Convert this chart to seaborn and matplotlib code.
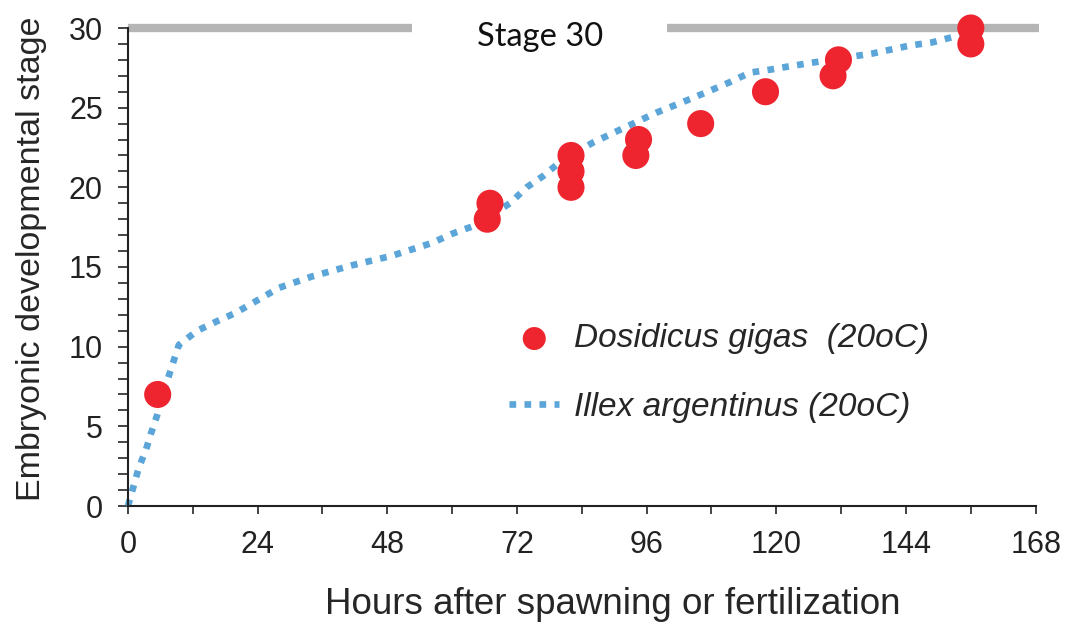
import matplotlib
matplotlib.use('Agg')
import matplotlib.pyplot as plt
from matplotlib.ticker import MultipleLocator
import seaborn as sns

# Dosidicus gigas observations (hours, stage)
dosidicus_hours = [5.5, 66.5, 67, 82, 82, 82, 94, 94.5, 106, 118, 130.5, 131.5, 156, 156]
dosidicus_stage = [7, 18, 19, 20, 21, 22, 22, 23, 24, 26, 27, 28, 29, 30]

# Illex argentinus reference curve
illex_hours = [0, 1, 2, 3.3, 4.3, 5.4, 7.4, 9.4, 12.8, 16.5, 19.8, 23.9, 28, 34, 41.4,
               48.8, 56.2, 60.1, 64.2, 67, 70.7, 73.8, 76.8, 80, 86, 91.6, 97.9, 104.5,
               111.4, 115.1, 119.1, 122.5, 126.2, 130, 137.8, 144.7, 148.9, 153.4, 156]
illex_stage = [0, 1.2, 2.4, 3.5, 4.6, 5.7, 8.0, 10.1, 11.0, 11.6, 12.1, 12.9, 13.7, 14.4, 15.1,
               15.7, 16.5, 17.1, 17.6, 18.2, 19.0, 20.0, 20.7, 21.6, 22.8, 23.7, 24.7, 25.6,
               26.6, 27.2, 27.4, 27.6, 27.8, 28.0, 28.4, 28.9, 29.1, 29.5, 29.7]

# Stage 30 reference bar segments
stage30_segments = [(0, 52.5), (99.7, 168.7)]
stage30_label = 'Stage 30'

x_ticks = [0, 24, 48, 72, 96, 120, 144, 168]
y_ticks = [0, 5, 10, 15, 20, 25, 30]

RED = '#ee242f'
BLUE = '#5ba5d8'
GRAY = '#b5b5b5'

sns.set_style('ticks')
plt.rcParams['font.family'] = ['Liberation Sans', 'DejaVu Sans']

fig = plt.figure(figsize=(10.71, 6.25), dpi=100)
ax = fig.add_axes([0.1195, 0.1904, 0.8475, 0.7648])

for x0, x1 in stage30_segments:
    ax.plot([x0, x1], [30, 30], color=GRAY, lw=6, solid_capstyle='butt',
            clip_on=False, zorder=1)
ax.text(76.2, 29.45, stage30_label, ha='center', va='center', fontsize=23.5,
        family='Lato', color='#111111')

sns.lineplot(x=illex_hours, y=illex_stage, ax=ax, color=BLUE, lw=4.8,
             linestyle=(0, (1.0, 1.25)), sort=False, estimator=None,
             label='Illex argentinus (20oC)', zorder=2, clip_on=False)
sns.scatterplot(x=dosidicus_hours, y=dosidicus_stage, ax=ax, color=RED, s=380,
                edgecolor='none', label='Dosidicus gigas  (20oC)', zorder=3,
                clip_on=False)

ax.set_xlim(0, 168)
ax.set_ylim(0, 30)
ax.set_xticks(x_ticks)
ax.set_yticks(y_ticks)
ax.xaxis.set_minor_locator(MultipleLocator(12))
ax.yaxis.set_minor_locator(MultipleLocator(1))
ax.tick_params(axis='both', which='major', labelsize=22, colors='#222222')
ax.tick_params(axis='y', which='both', direction='out', length=7, width=1.2, pad=11)
ax.tick_params(axis='x', which='both', direction='out', length=6, width=1.2, pad=11)

sns.despine(ax=ax)
for side in ['left', 'bottom']:
    ax.spines[side].set_linewidth(1.5)
    ax.spines[side].set_color('#222222')

ax.set_xlabel('Hours after spawning or fertilization', fontsize=26.5)
ax.set_ylabel('Embryonic developmental stage', fontsize=24.5)
ax.xaxis.set_label_coords(0.534, -0.170)
ax.yaxis.set_label_coords(-0.089, 0.517)

handles, labels = ax.get_legend_handles_labels()
order = [1, 0]
leg = ax.legend([handles[i] for i in order], [labels[i] for i in order],
                loc='upper left', bbox_to_anchor=(0.387, 0.445), frameon=False,
                prop={'size': 24, 'style': 'italic'}, handlelength=1.5,
                handletextpad=0.45, labelspacing=1.12, markerscale=0.85)

fig.savefig('out.png', dpi=100)
